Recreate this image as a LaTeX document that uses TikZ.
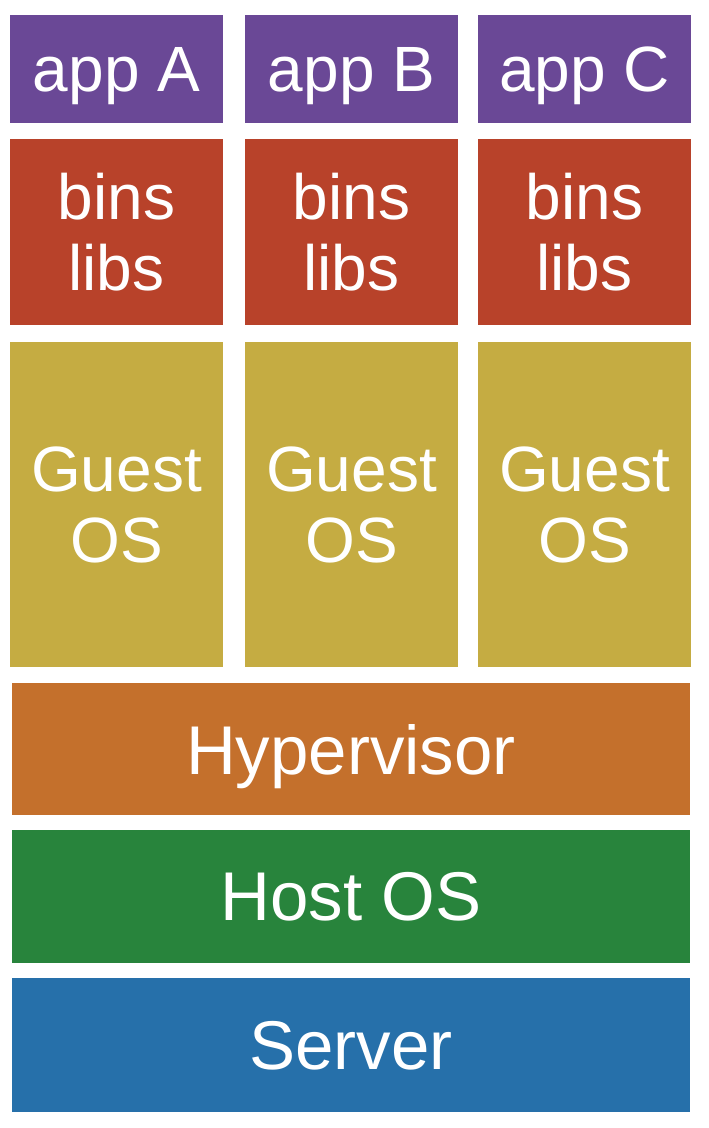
\documentclass[tikz,border=0pt]{standalone}
\usepackage{xcolor}
\usepackage{fontspec}
\setmainfont{Liberation Sans}
\usepackage{tikz}

\definecolor{appcol}{RGB}{106,72,150}
\definecolor{bincol}{RGB}{184,66,42}
\definecolor{guestcol}{RGB}{197,172,66}
\definecolor{hypcol}{RGB}{196,112,44}
\definecolor{hostcol}{RGB}{40,132,60}
\definecolor{servcol}{RGB}{38,112,170}

\tikzset{
  layer/.style={inner sep=0pt, text=white, align=center},
  colbox/.style={layer, minimum width=106.5pt, font=\fontsize{32}{35.5}\selectfont},
  widebox/.style={layer, minimum width=339pt, text depth=0pt, font=\fontsize{34.5}{38}\selectfont}
}

\begin{document}
\begin{tikzpicture}[x=0.5pt,y=0.5pt,yscale=-1,xscale=1]
        \path[fill=white] (0,0) rectangle (708,1128);

        \node[colbox, fill=appcol, minimum height=54pt, text depth=0pt] (appA) at (116.5,69) {app A};
        \node[colbox, fill=appcol, minimum height=54pt, text depth=0pt] (appB) at (351.5,69) {app B};
        \node[colbox, fill=appcol, minimum height=54pt, text depth=0pt] (appC) at (584.5,69) {app C};

        \node[colbox, fill=bincol, minimum height=93pt] (binsA) at (116.5,232) {bins\\libs};
        \node[colbox, fill=bincol, minimum height=93pt] (binsB) at (351.5,232) {bins\\libs};
        \node[colbox, fill=bincol, minimum height=93pt] (binsC) at (584.5,232) {bins\\libs};

        \node[colbox, fill=guestcol, minimum height=162.5pt] (guestA) at (116.5,504.5) {Guest\\OS};
        \node[colbox, fill=guestcol, minimum height=162.5pt] (guestB) at (351.5,504.5) {Guest\\OS};
        \node[colbox, fill=guestcol, minimum height=162.5pt] (guestC) at (584.5,504.5) {Guest\\OS};

        \node[widebox, fill=hypcol, minimum height=66pt] (hyper) at (351,749) {Hypervisor};
        \node[widebox, fill=hostcol, minimum height=66.5pt] (host) at (351,896.5) {Host OS};
        \node[widebox, fill=servcol, minimum height=67pt] (server) at (351,1045) {Server};
\end{tikzpicture}
\end{document}
